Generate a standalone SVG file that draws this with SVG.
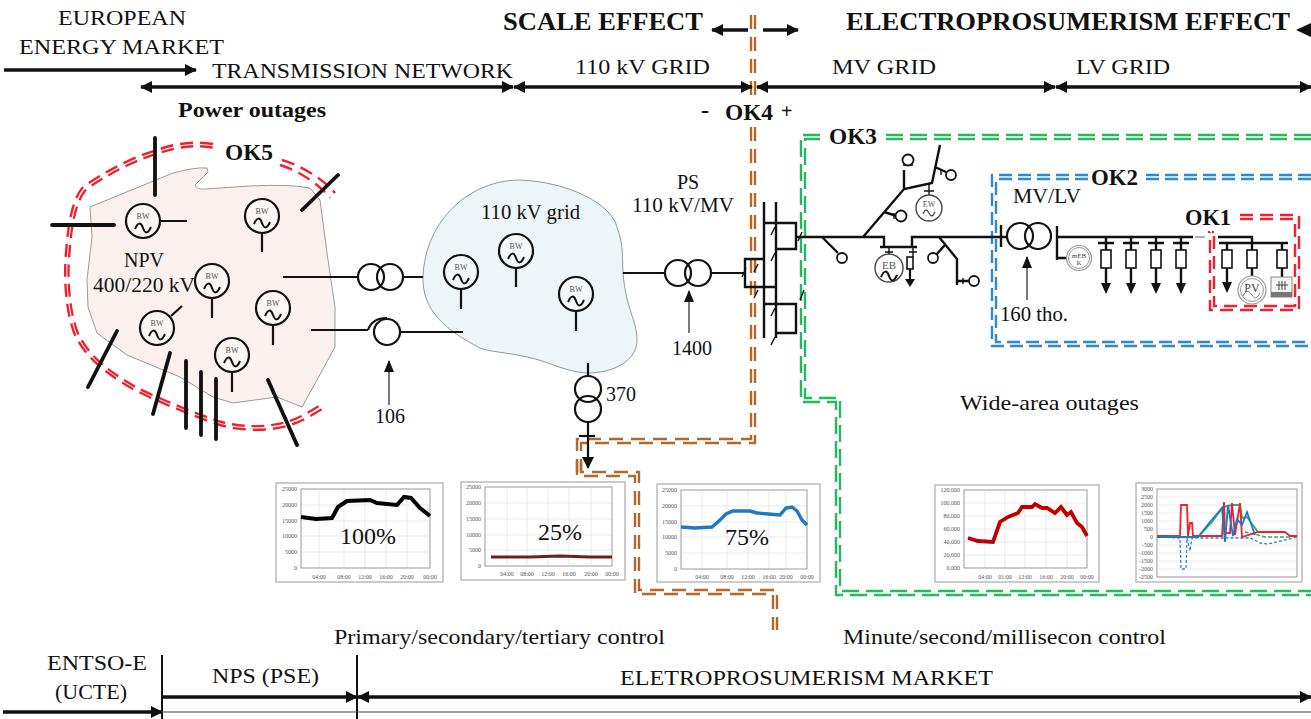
<svg xmlns="http://www.w3.org/2000/svg" width="1311" height="719" viewBox="0 0 1311 719">
<style>
text{font-family:"Liberation Serif","Times New Roman",serif;fill:#111}
.b{font-weight:bold}
.m{text-anchor:middle}
.bw{font-size:8px;fill:#555;text-anchor:middle}
.w{fill:none;stroke:#111;stroke-width:2.400}
.t{fill:none;stroke:#111;stroke-width:3.800;stroke-linecap:round}
.h{fill:none;stroke:#111;stroke-width:1.400}
.c{fill:none;stroke:#111;stroke-width:2.200}
.cw{fill:#fff;stroke:#111;stroke-width:1.800}
.ar{fill:none;stroke:#111;stroke-width:3.600}
.dbl{marker-start:url(#hd);marker-end:url(#hd)}
.sgl{marker-end:url(#hd)}
.pa{fill:none;stroke:#333;stroke-width:1.300;marker-end:url(#sm)}
.d{fill:none;stroke-width:2.400}
.br{stroke:#b3682a;stroke-dasharray:14 8}.gr{stroke:#25b860;stroke-dasharray:17 7}.bl{stroke:#2f88d2;stroke-dasharray:13 6}.re{stroke:#f0202e;stroke-dasharray:13 7}
.fr{fill:#fff;stroke:#bbb;stroke-width:1.500}
.pl{fill:none;stroke:#999;stroke-width:1}
.gd{fill:none;stroke:#e6e6e6;stroke-width:.8}
.ax{font-size:6px;fill:#555}
.r{text-anchor:end}
.f{fill:#fff;stroke:#111;stroke-width:1.600}
</style>
<defs>
<marker id="hd" markerUnits="userSpaceOnUse" markerWidth="13" markerHeight="13" refX="11" refY="6.500" orient="auto-start-reverse"><path d="M0 0.500L12 6.500L0 12.500Z" fill="#111"/></marker>
<marker id="sm" markerUnits="userSpaceOnUse" markerWidth="12" markerHeight="12" refX="11" refY="5" orient="auto"><path d="M0 0L12 5L0 10Z" fill="#111"/></marker>
<path id="wave" d="M-8 6c3-7 6-7 8-1s5 6 8-1" fill="none" stroke="#111" stroke-width="2"/>
<g id="gen"><circle r="17" fill="#fff" fill-opacity=".35" stroke="#111" stroke-width="2.200"/><use href="#wave" y="2"/></g>
</defs>

<g id="region-npv"><path d="M90 207L173 173Q195 167 207 168L208 172L195 185Q197 190 205 189L250 186Q290 184 310 188L320 200L327 253L335 307V347L317 380L302 407L277 397L233 403L213 397L180 377L127 355L97 333L88 307L87 280L92 237Z" fill="#faf1ee" stroke="#999" stroke-width="1"/></g>
<g id="region-110kv"><path d="M423 277C425 220 470 180 520 180C570 182 612 205 617 227C624 245 622 260 623 273C626 310 637 320 637 340C637 360 615 373 587 373C565 372 545 360 527 357C505 352 490 352 480 348C445 330 422 310 423 277Z" fill="#edf5f8" stroke="#8a9a9f" stroke-width="1"/></g>

<g id="connectors">
<path class="d br" d="M751 15V100M751 127V439H577V472"/><path class="d br" d="M755 15V100M755 127V443H581V472"/>
<path class="d br" d="M577 461V476H635V594H773V630"/><path class="d br" d="M581 461V472H639V590H777V630"/>
<path class="d gr" d="M1311 135H885M820 135H801V402H836V595H1311"/><path class="d gr" d="M1311 139H885M820 139H805V398H840V591H1311"/>
<path class="d bl" d="M1311 175H1146M1088 175H992V346H1311"/><path class="d bl" d="M1311 179H1146M1088 179H996V342H1311"/>
<path class="d re" d="M1240 215H1299V310H1210V232"/><path class="d re" d="M1240 219H1295V306H1214V232"/>
<g id="ok5-ring"><path id="ring" class="d re" d="M213 144C195 141 178 143 160 149C140 155 115 165 83 187C72 200 68 225 66 253C64 275 65 310 75 335C85 355 100 370 133 389C150 398 190 415 220 425C245 432 275 431 293 424C305 420 315 413 324 408"/><use href="#ring" transform="translate(200 285) scale(.975) translate(-200 -285)"/><path class="d re" d="M282 160C300 165 325 180 335 193"/><path class="d re" d="M280 165C298 170 320 185 330 198"/></g>

<path class="ar sgl" d="M4 70H196"/>
<path class="ar dbl" d="M141 87H513"/><path class="ar dbl" d="M514 87H752"/><path class="ar dbl" d="M757 87H1055"/><path class="ar dbl" d="M1056 87H1311"/>
<path class="ar sgl" d="M748 30H712"/><path class="ar sgl" d="M763 30H798"/><path d="M1311 23L1296 30L1311 37Z" fill="#111"/>
<path d="M162 655V719M357 655V719" stroke="#111" stroke-width="2" fill="none"/>
<path class="ar sgl" d="M162 697H357"/><path class="ar dbl" d="M358 697H1311"/>
<path class="ar sgl" d="M3 712H162"/><path d="M162 712H1311" stroke="#444" stroke-width="1.200"/>

<path class="t" d="M155 138V195M52 225H114M302 210L338 175M117 331L88 387M170 353L153 414M186 361V428M201 372V435M216 379V439M268 380L297 445"/>
<path class="c" d="M160 221H187M262 233V252M212 298V318M273 326V345M171 316L182 306M232 372V392"/>
<path class="c" d="M283 277H358M403 277H423M311 330H368M400 332H463"/>
<path class="c" d="M461 289V309M516 268V287M576 311V331"/>
<path class="pa" d="M389 405V361"/>
<path class="c" d="M623 273H665M711 273H745"/>
<path class="pa" d="M689 333V291"/>
<path class="w" d="M764 202V338M776 202V338M764 223H796V249H776M764 304H796V333H776M764 259H745V287H776"/>
<path class="h" d="M742 277L746 268M758 264L754 272M758 290L754 298M775 227L771 235M775 253L771 261M775 308L771 316M775 337L771 345M798 241L802 232M804 290L800 300"/>
<path class="pa" d="M1027 300V257"/>
<path class="c" d="M588 363V376M588 422V468"/>
<path d="M582 457H594L588 469Z" fill="#111"/>
<path class="c" d="M579 436H595"/>
<path class="w" d="M796 237H884V247M880 247H917M912 247V237H1007M822 237L838 253M863 237L904 189L932 183L940 145M904 189V170M935 167L946 172M884 212L897 216M939 237L957 259V285M945 245L935 256M957 281H969"/>
<path class="h" d="M889 247V256M913 247V257M929 183V195M924 191H934M885 252H893M909 252H917M903 165H913M894 213V219M941 169V175M963 278V284"/>
<path class="w" d="M1001 225V247"/>
<path class="w" d="M1057 226V260M1057 237H1193M1218 237H1252V243M1219 243H1288M1057 258H1067"/>
<path d="M1195 237H1205" stroke="#999" stroke-width="1.500"/>
<path d="M1208 232H1215" stroke="#f0202e" stroke-width="2" stroke-dasharray="2 2"/>
</g>

<g id="gen-1"><use href="#gen" x="143" y="221"/><text class="bw" x="143" y="219">BW</text></g>
<g id="gen-2"><use href="#gen" x="262" y="216"/><text class="bw" x="262" y="214">BW</text></g>
<g id="gen-3"><use href="#gen" x="212" y="281"/><text class="bw" x="212" y="279">BW</text></g>
<g id="gen-4"><use href="#gen" x="273" y="308"/><text class="bw" x="273" y="306">BW</text></g>
<g id="gen-5"><use href="#gen" x="157" y="328"/><text class="bw" x="157" y="326">BW</text></g>
<g id="gen-6"><use href="#gen" x="232" y="355"/><text class="bw" x="232" y="353">BW</text></g>
<g id="gen-7"><use href="#gen" x="461" y="272"/><text class="bw" x="461" y="270">BW</text></g>
<g id="gen-8"><use href="#gen" x="516" y="251"/><text class="bw" x="516" y="249">BW</text></g>
<g id="gen-9"><use href="#gen" x="576" y="294"/><text class="bw" x="576" y="292">BW</text></g>

<g id="trafo-npv-1"><circle class="c" cx="371" cy="277" r="13"/><circle class="c" cx="390" cy="277" r="13"/></g>
<g id="trafo-npv-2"><circle class="c" cx="387" cy="332" r="13"/><path class="c" d="M368 330Q372 318 387 318"/></g>
<g id="trafo-ps"><circle class="c" cx="678" cy="273" r="13"/><circle class="c" cx="698" cy="273" r="13"/></g>
<g id="trafo-370"><circle class="c" cx="588" cy="389" r="13"/><circle class="c" cx="588" cy="409" r="13"/></g>
<g id="trafo-mvlv"><circle class="c" cx="1020" cy="236" r="13"/><circle class="c" cx="1038" cy="236" r="13"/></g>

<g id="mv-loads">
<circle class="cw" cx="842" cy="258" r="5"/><circle class="cw" cx="908" cy="160" r="5.500"/><circle class="cw" cx="951" cy="175" r="5"/><circle class="cw" cx="901" cy="216" r="5.500"/><circle class="cw" cx="974" cy="281" r="5"/><circle class="cw" cx="933" cy="258" r="5"/>
<rect class="f" x="907" y="257" width="6" height="12"/><path class="c" d="M910 269V280"/><path d="M905 279H915L910 287Z" fill="#111"/>
</g>
<g id="gen-ew"><circle cx="929" cy="208" r="13" fill="#fff" stroke="#444" stroke-width="1.400"/><text x="929" y="207" text-anchor="middle" font-size="8" style="fill:#555">EW</text><path d="M923 214c2-5 4-5 6-1s4 4 6-1" fill="none" stroke="#444" stroke-width="1.200"/></g>
<g id="gen-eb"><circle cx="889" cy="268" r="14" fill="#fff" stroke="#444" stroke-width="1.400"/><text x="889" y="269" text-anchor="middle" font-size="11" style="fill:#555">EB</text><use href="#wave" x="889" y="271"/></g>

<g id="lv-feeders">
<path class="w" d="M1098 243H1114M1123 243H1139M1148 243H1164M1173 243H1189M1106 237V250M1131 237V250M1156 237V250M1181 237V250M1106 268V284M1131 268V284M1156 268V284M1181 268V284M1227 243V250M1252 243V250M1282 243V250M1227 268V284M1252 268V276M1282 268V277"/>
<g class="f"><rect x="1101" y="250" width="10" height="18"/><rect x="1126" y="250" width="10" height="18"/><rect x="1151" y="250" width="10" height="18"/><rect x="1176" y="250" width="10" height="18"/><rect x="1222" y="250" width="10" height="18"/><rect x="1247" y="250" width="10" height="18"/><rect x="1277" y="250" width="10" height="18"/></g>
<path d="M1101 283H1111L1106 294ZM1126 283H1136L1131 294ZM1151 283H1161L1156 294ZM1176 283H1186L1181 294ZM1222 282H1232L1227 293Z" fill="#111"/>
</g>
<g id="meb"><circle cx="1079" cy="258" r="12.500" fill="#fff" stroke="#999" stroke-width="1.200"/><circle cx="1079" cy="258" r="10.500" fill="#fff" stroke="#999" stroke-width="1"/><text x="1079" y="258" text-anchor="middle" font-size="7" style="fill:#444">mEB</text><text x="1079" y="265" text-anchor="middle" font-size="7" style="fill:#444">K</text></g>
<g id="pv"><circle cx="1252" cy="290" r="14" fill="#fff" stroke="#999" stroke-width="1.200"/><circle cx="1252" cy="290" r="11.500" fill="#fff" stroke="#999" stroke-width="1"/><text x="1252" y="292" text-anchor="middle" font-size="12" style="fill:#444">PV</text><path d="M1243 296c3-6 5-6 9-1s5 3 8-2" fill="none" stroke="#777"/></g>
<g id="battery"><rect x="1271" y="277" width="21" height="20" fill="#f4f4f4" stroke="#888"/><rect x="1271" y="292" width="21" height="5" fill="#777"/><path d="M1279 281V290M1282 281V290M1285 281V290M1276 285H1288" stroke="#444" fill="none"/></g>

<g id="chart-100"><rect class="fr" x="276" y="483" width="167" height="99"/>
<path class="gd" d="M301 505H430M301 521H430M301 536H430M301 552H430M319 489V568M344 489V568M365 489V568M386 489V568M407 489V568"/><rect class="pl" x="301" y="489" width="129" height="79"/>
<path fill="none" stroke="#000" stroke-width="4" d="M301 517L316 519L332 518L338 507L347 501L370 500L377 503L397 505L404 497L411 498L420 508L430 516"/>
<g><text class="ax r" x="297" y="491">25000</text><text class="ax r" x="297" y="507">20000</text><text class="ax r" x="297" y="523">15000</text><text class="ax r" x="297" y="538">10000</text><text class="ax r" x="297" y="554">5000</text><text class="ax r" x="297" y="570">0</text><text class="ax m" x="319" y="579">04:00</text><text class="ax m" x="344" y="579">08:00</text><text class="ax m" x="365" y="579">12:00</text><text class="ax m" x="386" y="579">16:00</text><text class="ax m" x="407" y="579">20:00</text><text class="ax m" x="430" y="579">00:00</text></g>
<text class="m" x="368" y="544" font-size="24">100%</text></g>

<g id="chart-25"><rect class="fr" x="461" y="482" width="164" height="98"/>
<path class="gd" d="M485 503H612M485 519H612M485 535H612M485 550H612M507 487V566M527 487V566M548 487V566M569 487V566M591 487V566"/><rect class="pl" x="485" y="487" width="127" height="79"/>
<path fill="none" stroke="#6b1f1f" stroke-width="3" d="M491 557L530 557L560 556L590 557L612 557"/>
<g><text class="ax r" x="481" y="489">25000</text><text class="ax r" x="481" y="505">20000</text><text class="ax r" x="481" y="521">15000</text><text class="ax r" x="481" y="537">10000</text><text class="ax r" x="481" y="552">5000</text><text class="ax r" x="481" y="568">0</text><text class="ax m" x="507" y="576">04:00</text><text class="ax m" x="527" y="576">08:00</text><text class="ax m" x="548" y="576">12:00</text><text class="ax m" x="569" y="576">16:00</text><text class="ax m" x="591" y="576">20:00</text><text class="ax m" x="612" y="576">00:00</text></g>
<text class="m" x="560" y="540" font-size="24">25%</text></g>

<g id="chart-75"><rect class="fr" x="657" y="484" width="163" height="98"/>
<path class="gd" d="M681 506H807M681 522H807M681 537H807M681 553H807M702 490V569M727 490V569M748 490V569M769 490V569M786 490V569"/><rect class="pl" x="681" y="490" width="126" height="79"/>
<path fill="none" stroke="#1e78c2" stroke-width="3.400" d="M681 527L695 528L712 527L718 522L726 514L733 511L750 511L757 513L780 515L786 508L792 507L797 511L802 520L807 525"/>
<g><text class="ax r" x="677" y="492">25000</text><text class="ax r" x="677" y="508">20000</text><text class="ax r" x="677" y="524">15000</text><text class="ax r" x="677" y="539">10000</text><text class="ax r" x="677" y="555">5000</text><text class="ax r" x="677" y="571">0</text><text class="ax m" x="702" y="579">04:00</text><text class="ax m" x="727" y="579">08:00</text><text class="ax m" x="748" y="579">12:00</text><text class="ax m" x="769" y="579">16:00</text><text class="ax m" x="786" y="579">20:00</text><text class="ax m" x="807" y="579">00:00</text></g>
<text class="m" x="747" y="545" font-size="24">75%</text></g>

<g id="chart-red"><rect class="fr" x="935" y="485" width="164" height="97"/>
<path class="gd" d="M964 503H1087M964 516H1087M964 529H1087M964 542H1087M964 555H1087M985 490V568M1005 490V568M1025 490V568M1046 490V568M1067 490V568"/><rect class="pl" x="964" y="490" width="123" height="78"/>
<path fill="none" stroke="#c00000" stroke-width="3.800" d="M968 538L978 541L993 542L1000 522L1008 517L1018 513L1022 507L1032 507L1035 504L1042 508L1047 508L1055 513L1061 507L1067 515L1071 512L1077 523L1082 527L1087 536"/>
<g><text class="ax r" x="960" y="492">120,000</text><text class="ax r" x="960" y="505">100,000</text><text class="ax r" x="960" y="518">80,000</text><text class="ax r" x="960" y="531">60,000</text><text class="ax r" x="960" y="544">40,000</text><text class="ax r" x="960" y="557">20,000</text><text class="ax r" x="960" y="570">0,000</text><text class="ax m" x="985" y="579">04:00</text><text class="ax m" x="1005" y="579">01:00</text><text class="ax m" x="1025" y="579">12:00</text><text class="ax m" x="1046" y="579">16:00</text><text class="ax m" x="1067" y="579">20:00</text><text class="ax m" x="1087" y="579">00:00</text></g></g>

<g id="chart-mixed"><rect class="fr" x="1136" y="483" width="166" height="99"/>
<path class="gd" d="M1157 497H1297M1157 505H1297M1157 513H1297M1157 521H1297M1157 529H1297M1157 537H1297M1157 545H1297M1157 553H1297M1157 561H1297M1157 569H1297"/><rect class="pl" x="1157" y="489" width="140" height="88"/>
<path fill="none" stroke="#2cae66" stroke-width="1.500" stroke-dasharray="4 2" d="M1290 537H1265L1258 535L1245 532"/>
<path fill="none" stroke="#2cae66" stroke-width="1.800" d="M1182 537H1198L1212 522L1223 507L1232 505L1240 505L1242 518L1247 517L1258 532"/>
<path fill="none" stroke="#2f88d2" stroke-width="1.300" stroke-dasharray="3 2" d="M1157 537L1180 538L1181 569L1186 569L1187 538L1190 551L1192 538H1250L1260 543L1268 544L1285 540L1297 537"/>
<path fill="none" stroke="#f0202e" stroke-width="1.800" d="M1157 536H1180L1181 505L1187 505L1188 536L1190 523L1192 523L1193 536H1222L1224 502L1225 533L1230 533L1232 503L1235 535L1240 503L1242 537L1258 532L1285 532L1290 536H1297"/>
<path fill="none" stroke="#1e78c2" stroke-width="1.800" d="M1157 537H1198L1210 522L1222 508L1225 542L1228 505L1233 536L1237 519L1242 525L1247 512L1255 535"/>
<g><text class="ax r" x="1153" y="491">3000</text><text class="ax r" x="1153" y="499">2500</text><text class="ax r" x="1153" y="507">2000</text><text class="ax r" x="1153" y="515">1500</text><text class="ax r" x="1153" y="523">1000</text><text class="ax r" x="1153" y="531">500</text><text class="ax r" x="1153" y="539">0</text><text class="ax r" x="1153" y="547">-500</text><text class="ax r" x="1153" y="555">-1000</text><text class="ax r" x="1153" y="563">-1500</text><text class="ax r" x="1153" y="571">-2000</text><text class="ax r" x="1153" y="579">-2500</text></g></g>

<g id="labels">
<text class="m" x="122" y="25" font-size="22" textLength="128" lengthAdjust="spacingAndGlyphs">EUROPEAN</text>
<text x="19" y="54" font-size="22" textLength="205" lengthAdjust="spacingAndGlyphs">ENERGY MARKET</text>
<text class="b" x="503" y="30" font-size="26" textLength="200" lengthAdjust="spacingAndGlyphs">SCALE EFFECT</text>
<text class="b" x="846" y="30" font-size="26" textLength="444" lengthAdjust="spacingAndGlyphs">ELECTROPROSUMERISM EFFECT</text>
<text x="212" y="78" font-size="22" textLength="301" lengthAdjust="spacingAndGlyphs">TRANSMISSION NETWORK</text>
<text x="575" y="74" font-size="22" textLength="135" lengthAdjust="spacingAndGlyphs">110 kV GRID</text>
<text x="832" y="74" font-size="22" textLength="104" lengthAdjust="spacingAndGlyphs">MV GRID</text>
<text x="1076" y="74" font-size="22" textLength="94" lengthAdjust="spacingAndGlyphs">LV GRID</text>
<text class="b" x="178" y="117" font-size="22" textLength="148" lengthAdjust="spacingAndGlyphs">Power outages</text>
<text class="b" x="701" y="118" font-size="24">-</text><text class="b" x="725" y="120" font-size="23" textLength="48" lengthAdjust="spacingAndGlyphs">OK4</text><text class="b" x="781" y="118" font-size="20">+</text>
<text class="b" x="225" y="160" font-size="23" textLength="48" lengthAdjust="spacingAndGlyphs">OK5</text>
<text class="b" x="829" y="144" font-size="23" textLength="48" lengthAdjust="spacingAndGlyphs">OK3</text>
<text class="b" x="1091" y="185" font-size="23" textLength="47" lengthAdjust="spacingAndGlyphs">OK2</text>
<text class="b" x="1185" y="225" font-size="23" textLength="46" lengthAdjust="spacingAndGlyphs">OK1</text>
<text class="m" x="144" y="267" font-size="20">NPV</text>
<text x="93" y="292" font-size="20" textLength="102" lengthAdjust="spacingAndGlyphs">400/220 kV</text>
<text x="481" y="219" font-size="20" textLength="99" lengthAdjust="spacingAndGlyphs">110 kV grid</text>
<text class="m" x="688" y="189" font-size="20">PS</text>
<text x="632" y="212" font-size="20" textLength="102" lengthAdjust="spacingAndGlyphs">110 kV/MV</text>
<text x="1013" y="203" font-size="20" textLength="68" lengthAdjust="spacingAndGlyphs">MV/LV</text>
<text x="1000" y="321" font-size="20" textLength="68" lengthAdjust="spacingAndGlyphs">160 tho.</text>
<text class="m" x="390" y="423" font-size="20">106</text>
<text class="m" x="692" y="355" font-size="20">1400</text>
<text x="606" y="401" font-size="20">370</text>
<text x="960" y="410" font-size="22" textLength="179" lengthAdjust="spacingAndGlyphs">Wide-area outages</text>
<text x="334" y="644" font-size="22" textLength="331" lengthAdjust="spacingAndGlyphs">Primary/secondary/tertiary control</text>
<text x="843" y="644" font-size="22" textLength="323" lengthAdjust="spacingAndGlyphs">Minute/second/millisecon control</text>
<text x="47" y="670" font-size="22" textLength="100" lengthAdjust="spacingAndGlyphs">ENTSO-E</text>
<text x="55" y="699" font-size="22" textLength="72" lengthAdjust="spacingAndGlyphs">(UCTE)</text>
<text x="212" y="683" font-size="22" textLength="107" lengthAdjust="spacingAndGlyphs">NPS (PSE)</text>
<text x="620" y="685" font-size="22" textLength="373" lengthAdjust="spacingAndGlyphs">ELETROPROSUMERISM MARKET</text>
</g>
</svg>
